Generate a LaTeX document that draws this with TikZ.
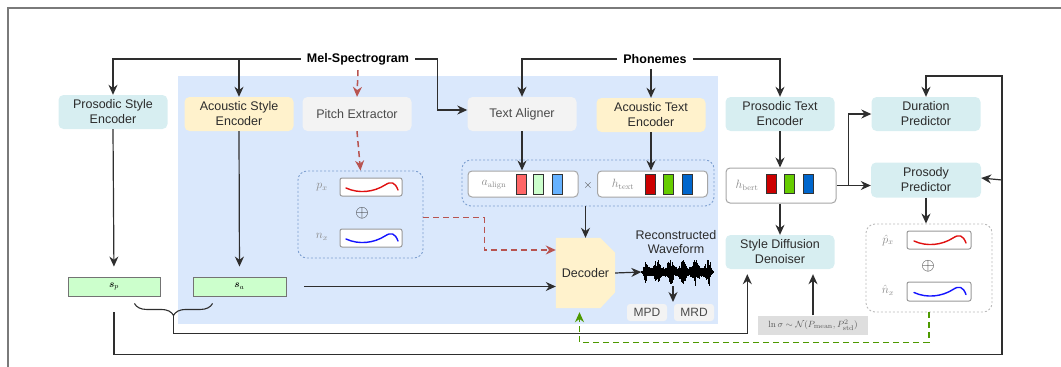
\documentclass[tikz,border=0pt]{standalone}
\usepackage{amsmath}
\usepackage[no-math]{fontspec}
\setmainfont{Liberation Sans}
\usetikzlibrary{arrows.meta,backgrounds,decorations.pathreplacing,calc}

\definecolor{lnc}{HTML}{2E2E2E}
\definecolor{txt}{HTML}{2B2B2B}
\definecolor{txtg}{HTML}{4A4A4A}
\definecolor{framec}{HTML}{7A7A7A}
\definecolor{panelc}{HTML}{DAE8FC}
\definecolor{cyanfill}{HTML}{D7EEF1}
\definecolor{yelfill}{HTML}{FFF2CC}
\definecolor{grayfill}{HTML}{F3F3F3}
\definecolor{svecfill}{HTML}{CCFFCC}
\definecolor{grpc}{HTML}{7EA0D0}
\definecolor{hatc}{HTML}{BBBBBB}
\definecolor{redc}{HTML}{B85450}
\definecolor{greenc}{HTML}{4D9900}
\definecolor{mlab}{HTML}{8A8A8A}
\definecolor{barr1}{HTML}{FF6666}
\definecolor{barg1}{HTML}{CCFFCC}
\definecolor{barb1}{HTML}{66B2FF}
\definecolor{barr2}{HTML}{CC0000}
\definecolor{barg2}{HTML}{66CC00}
\definecolor{barb2}{HTML}{0066CC}
\definecolor{curvered}{HTML}{E01010}
\definecolor{curveblue}{HTML}{1414FF}

\newcommand\curvein[2]{%
  \begin{scope}[shift={(#1.center)}]
    \draw[#2, line width=1.4pt, line cap=round]
      (-25,1) .. controls (-12,7) and (3,5) .. (14,-2)
      .. controls (20,-6) and (24,-5) .. (27,3);
  \end{scope}}

\tikzset{
  blk/.style={rounded corners=5pt, minimum width=109pt, minimum height=34pt,
    align=center, text=txt, inner sep=0pt,
    font=\fontsize{12.5}{15}\selectfont},
  cyanbox/.style={blk, fill=cyanfill},
  yelbox/.style={blk, fill=yelfill},
  graybox/.style={blk, fill=grayfill, text=txtg},
  title/.style={font=\fontsize{12.5}{15}\selectfont\bfseries, text=black,
    inner xsep=6pt, inner ysep=5pt},
  arr/.style={draw=lnc, line width=1.2pt, -{Stealth[length=10pt,width=9pt]}},
  plain/.style={draw=lnc, line width=1.2pt},
  redarr/.style={draw=redc, line width=1.5pt, dash pattern=on 6pt off 4pt,
    -{Stealth[length=10pt,width=9pt]}},
  greenarr/.style={draw=greenc, line width=1.5pt, dash pattern=on 6pt off 4pt,
    -{Stealth[length=10pt,width=9pt]}},
  vecbox/.style={draw=black!35, line width=1pt, fill=white, rounded corners=4pt,
    minimum width=110pt, minimum height=26pt, inner sep=0pt},
  bar/.style={draw=black!80, line width=0.7pt, minimum width=10pt,
    minimum height=20pt, inner sep=0pt},
  mlabel/.style={text=mlab, inner sep=0pt, font=\fontsize{12}{14}\selectfont},
  grpbox/.style={draw=grpc, line width=0.9pt, dash pattern=on 2pt off 2pt,
    rounded corners=9pt, inner sep=0pt},
  cbox/.style={draw=black!40, line width=1pt, fill=white, rounded corners=2pt,
    minimum width=62pt, minimum height=18pt, inner sep=0pt},
  svec/.style={draw=black!55, line width=0.9pt, fill=svecfill,
    minimum width=92pt, minimum height=19pt, inner sep=0pt,
    font=\fontsize{10}{12}\selectfont},
  disc/.style={fill=grayfill, rounded corners=3pt, minimum width=40pt,
    minimum height=17pt, inner sep=0pt, text=txtg,
    font=\fontsize{12}{14}\selectfont},
  oplusn/.style={inner sep=0pt, text=txt, font=\fontsize{17}{17}\selectfont},
  bracestyle/.style={draw=lnc, line width=1.1pt, decorate,
    decoration={brace, mirror, amplitude=12pt}},
}

\begin{document}
\begin{tikzpicture}[x=1pt,y=-1pt]
\clip (0,0) rectangle (1061,367);

% outer frame
\draw[framec, line width=1.4pt] (8,380) -- (8,8) -- (1075,8);

% ---------------- nodes ----------------
\node[title] (mel) at (358,59) {Mel-Spectrogram};
\node[title] (ph) at (655,59) {Phonemes};

\node[cyanbox] (pse) at (113,112) {Prosodic Style\\Encoder};
\node[yelbox]  (ase) at (239,114) {Acoustic Style\\Encoder};
\node[graybox] (pe)  at (357,114) {Pitch Extractor};
\node[graybox] (ta)  at (522,114) {Text Aligner};
\node[yelbox]  (ate) at (651,115) {Acoustic Text\\Encoder};
\node[cyanbox] (pte) at (780,114) {Prosodic Text\\Encoder};
\node[cyanbox] (dur) at (926,114) {Duration\\Predictor};
\node[cyanbox, minimum width=110pt, minimum height=35pt] (pp) at (926,180) {Prosody\\Predictor};
\node[cyanbox] (sdd) at (780,252) {Style Diffusion\\Denoiser};

% pitch / energy group
\node[grpbox, minimum width=125pt, minimum height=87pt] (pbx) at (360.5,214.5) {};
\node[cbox] (pxb) at (371,187) {};
\node[cbox] (nxb) at (371,238) {};
\node[mlabel] (pxl) at (322,187) {$p_x$};
\node[mlabel] (nxl) at (322,237) {$n_x$};
\node[oplusn] (op1) at (362,213) {$\oplus$};
\curvein{pxb}{curvered}
\curvein{nxb}{curveblue}

% alignment group
\node[grpbox, minimum width=252pt, minimum height=46pt] (abx) at (588,183) {};
\node[vecbox] (aal) at (523,184) {};
\node[vecbox] (ht) at (652.5,184) {};
\node[mlabel] (aall) at (494,185) {$a_{\mathrm{align}}$};
\node[mlabel] (htl) at (623,184) {$h_{\mathrm{text}}$};
\node[inner sep=0pt, text=txtg, font=\fontsize{13}{13}\selectfont] (tms) at (588,185) {$\times$};
\foreach \dx/\c [count=\k] in {-2/barr1,15/barg1,34/barb1}
  \node[bar, fill=\c] (aal-b\k) at ($(aal.center)+(\dx,0)$) {};
\foreach \dx/\c [count=\k] in {-2.5/barr2,15.5/barg2,34.5/barb2}
  \node[bar, fill=\c] (ht-b\k) at ($(ht.center)+(\dx,0)$) {};

% bert vector
\node[vecbox, minimum height=35pt] (hb) at (781,185.5) {};
\node[mlabel] (hbl) at (747,185) {$h_{\mathrm{bert}}$};
\foreach \dx/\c [count=\k] in {-10/barr2,8/barg2,27/barb2}
  \node[bar, fill=\c, minimum height=19pt] (hb-b\k) at ($(hb.center)+(\dx,-2)$) {};

% predicted pitch / energy group
\node[grpbox, draw=hatc, minimum width=126pt, minimum height=88pt] (hbx) at (929,268) {};
\node[cbox, minimum width=64pt] (phb) at (939,240) {};
\node[cbox, minimum width=64pt, minimum height=19pt] (nhb) at (939,291.5) {};
\node[mlabel] (phl) at (888,240) {$\hat{p}_x$};
\node[mlabel] (nhl) at (888,290) {$\hat{n}_x$};
\node[oplusn] (op2) at (928,266) {$\oplus$};
\curvein{phb}{curvered}
\curvein{nhb}{curveblue}

% style vectors
\node[svec] (sp) at (114,286.5) {$\boldsymbol{s}_p$};
\node[svec, minimum width=93pt] (sa) at (239.5,286.5) {$\boldsymbol{s}_a$};

% decoder, waveform, discriminators
\node[inner sep=0pt, minimum width=59pt, minimum height=70pt, text=txt,
  font=\fontsize{12.5}{15}\selectfont] (dec) at (585.5,273) {Decoder};
\node[inner sep=0pt, minimum width=74pt, minimum height=28pt] (wave) at (678.5,272) {};
\node[align=center, inner sep=0pt, text=txt,
  font=\fontsize{12.5}{14}\selectfont] (rw) at (676,242) {Reconstructed\\Waveform};
\node[disc] (mpd) at (647,312.5) {MPD};
\node[disc] (mrd) at (694,312.5) {MRD};
\coordinate (dgap) at (673,302);

\node[fill=black!13, text=black!65, inner sep=0pt, minimum width=110pt,
  minimum height=19pt, font=\fontsize{9.5}{11}\selectfont] (lns) at (813,325)
  {$\ln\sigma\sim\mathcal{N}(P_{\mathrm{mean}},P_{\mathrm{std}}^{2})$};

% ---------------- background ----------------
\begin{scope}[on background layer]
  \fill[panelc] (178,76) rectangle (718,324);
  \fill[yelfill] (dec.north west) -- ([xshift=-15pt]dec.north east)
    -- ([yshift=-15pt]dec.north east) -- ([yshift=16pt]dec.south east)
    -- ([xshift=-15pt]dec.south east) -- (dec.south west) -- cycle;
\end{scope}

% waveform
\pgfmathsetseed{11}
\begin{scope}[shift={(wave.west)}]
  \foreach \i in {0,...,146}{
    \pgfmathsetmacro{\xx}{\i*0.5}
    \pgfmathsetmacro{\env}{(0.5+0.5*sin(\xx*28))^2}
    \pgfmathsetmacro{\taper}{min(1,min(\xx,73-\xx)/5)}
    \pgfmathsetmacro{\aa}{\taper*(3+abs(rnd)*(2+10*\env))}
    \pgfmathsetmacro{\bb}{\taper*(3+abs(rnd)*(2+10*\env))}
    \draw[black, line width=0.9pt] (\xx,-\aa) -- (\xx,\bb);
  }
  \draw[black, line width=3pt] (1,0) -- (72,0);
\end{scope}

% ---------------- connectors ----------------
% Mel-spectrogram inputs
\draw[arr] (mel.west) -| (pse.north);
\draw[arr] (mel.west -| ase.north) -- (ase.north);
\draw[arr] (mel.east) -- ++(22,0) |- ([yshift=4pt]ta.west);
\draw[redarr] (mel.south) -- (pe.north);

% Phoneme inputs
\draw[arr] (ph.west) -| (ta.north);
\draw[arr] (ph.south -| ate.north) -- (ate.north);
\draw[arr] (ph.east) -| (pte.north);

% acoustic branch
\draw[redarr] (pe.south) -- (pbx.north);
\draw[arr] (ta.south) -- (ta.south |- aal.north);
\draw[arr] (ate.south) -- (ate.south |- ht.north);
\draw[arr] (abx.south -| dec.north) -- (dec.north);
\draw[redarr] ([yshift=-3pt]pbx.east) -- ++(61,0) |- ([yshift=23pt]dec.west);
\draw[arr] ([xshift=18pt]sa.east) -- (dec.west |- sa.east);
\draw[arr] (dec.east) -- (wave.west);
\draw[arr] (wave.south -| dgap) -- (dgap);

% style encoders
\draw[arr, shorten >=10pt] (pse.south) -- (sp.north);
\draw[arr, shorten >=10pt] (ase.south) -- (sa.north);

% prosodic branch
\draw[arr] (pte.south) -- (pte.south |- hb.north);
\draw[arr] (hb.south -| sdd.north) -- (sdd.north);
\draw[arr] (hb.east) -- (hb.east -| pp.west);
\draw[arr] ([xshift=12pt]hb.east) |- (dur.west);
\draw[arr] (pp.south) -- (pp.south |- hbx.north);
\draw[arr, shorten >=5pt] (lns.north) -- (lns.north |- sdd.south);

% style vectors to the denoiser
\coordinate (brl) at ([xshift=-26pt,yshift=-7pt]sp.south east);
\coordinate (brr) at ([xshift=20pt,yshift=-7pt]sa.south west);
\draw[bracestyle] (brl) -- (brr);
\coordinate (brt) at ($(brl)!0.5!(brr)+(0,12)$);
\draw[arr, shorten >=5pt] (brt) -- ++(0,18) -| ([xshift=22pt]sdd.south west);

% prosody feedback loop
\coordinate (loopTR) at (1002,76);
\draw[arr] ([yshift=-16pt]sp.south) -- ++(0,42) -| (loopTR) -| (dur.north);
\draw[arr] (loopTR |- pp.east) -- ([yshift=2pt]pp.east);

% predicted pitch / energy to decoder
\draw[greenarr, shorten >=4pt] (hbx.south) -- ++(0,30) -| ([xshift=-6pt]dec.south);

\end{tikzpicture}
\end{document}
